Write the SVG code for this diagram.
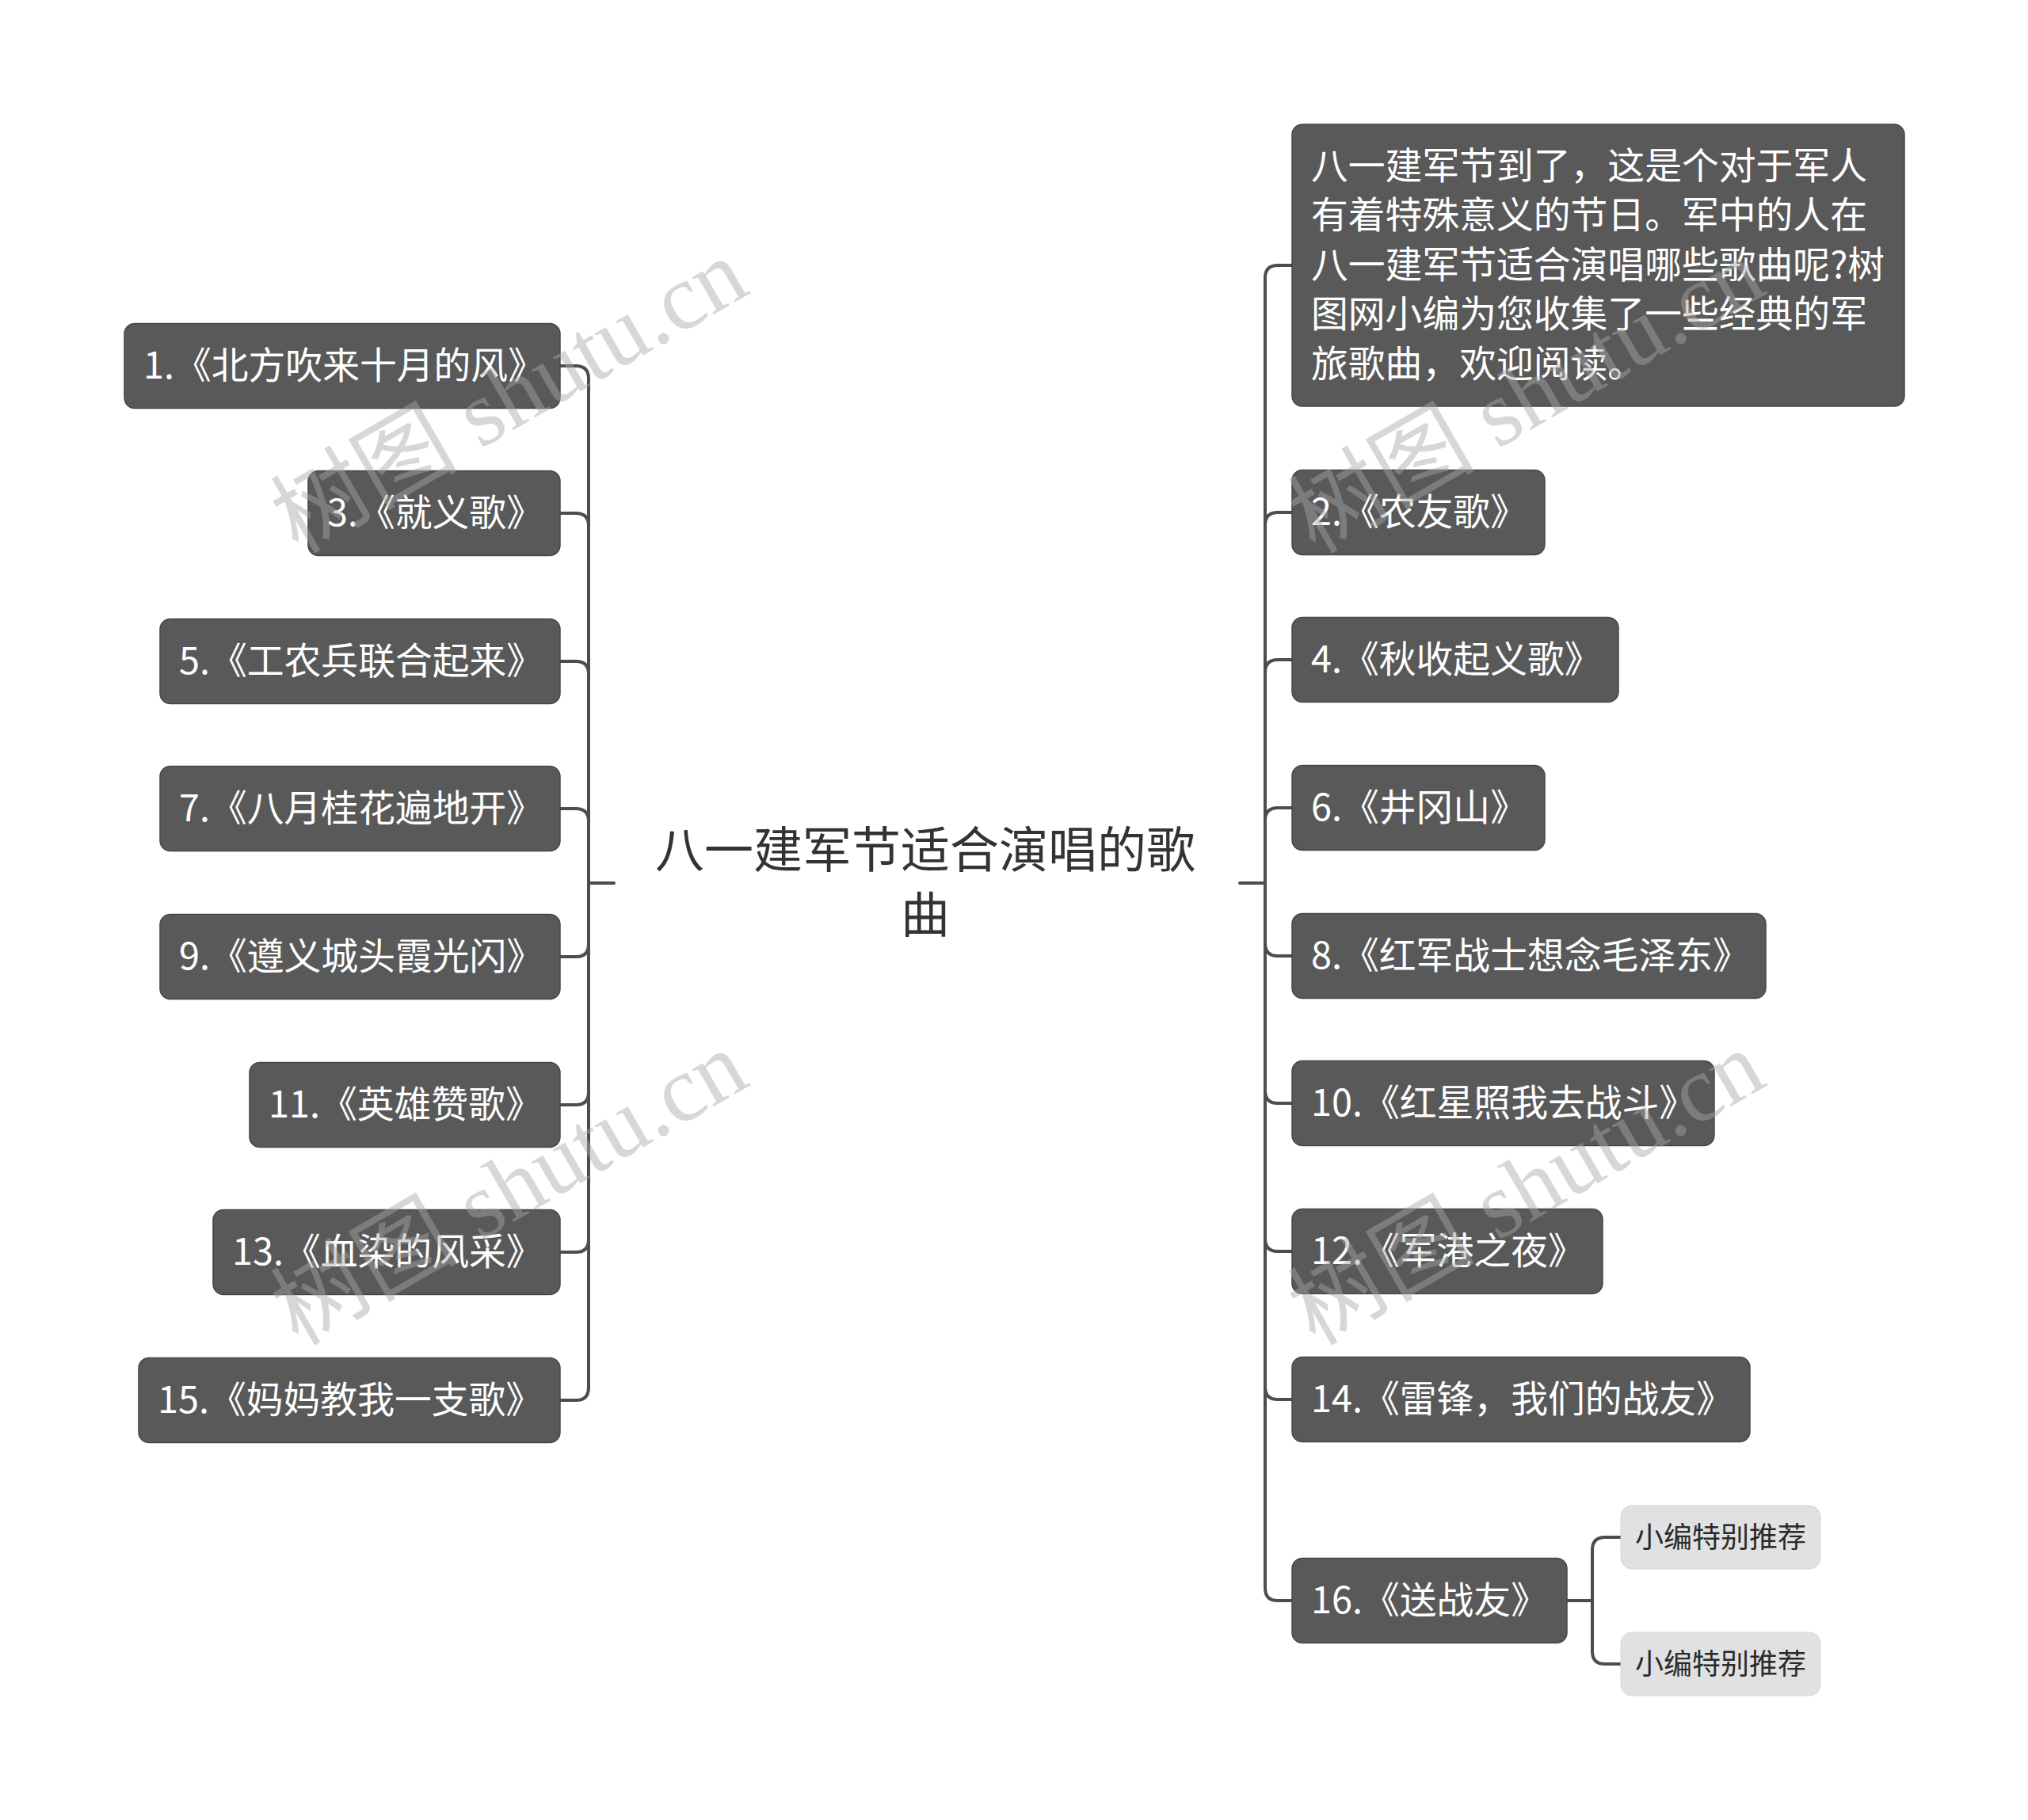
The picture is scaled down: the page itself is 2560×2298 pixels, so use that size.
<svg xmlns="http://www.w3.org/2000/svg" width="2560" height="2298" viewBox="0 0 2560 2298">
<style>
.n rect{fill:#595959;stroke:#474747;stroke-width:1.5}
.n text{fill:#ffffff;font-family:"Noto Sans CJK SC","Microsoft YaHei",sans-serif;font-size:46.8px}
.s rect{fill:#e1e1e1;stroke:#d6d6d6;stroke-width:1}
.s text{fill:#2a2a2a;font-family:"Noto Sans CJK SC",sans-serif;font-size:36px;text-anchor:middle}
.c text{fill:#333333;font-family:"Noto Sans CJK SC",sans-serif;font-size:62px;text-anchor:middle}
#connectors path{fill:none;stroke:#4d4d4d;stroke-width:4;stroke-linecap:round;stroke-linejoin:round}
.wm{fill:#a8a8a8;opacity:0.45;font-family:"Liberation Serif","Noto Sans CJK SC",serif;font-size:118px}
</style>
<rect width="2560" height="2298" fill="#ffffff"/>
<g id="connectors">
<path d="M775 1115 H743"/>
<path d="M743 1115 V478 Q743 462 727 462 H707"/>
<path d="M743 1115 V664 Q743 648 727 648 H707"/>
<path d="M743 1115 V851 Q743 835 727 835 H707"/>
<path d="M743 1115 V1037 Q743 1021 727 1021 H707"/>
<path d="M743 1115 V1192 Q743 1208 727 1208 H707"/>
<path d="M743 1115 V1379 Q743 1395 727 1395 H707"/>
<path d="M743 1115 V1565 Q743 1581 727 1581 H707"/>
<path d="M743 1115 V1752 Q743 1768 727 1768 H707"/>
<path d="M1565 1115 H1597"/>
<path d="M1597 1115 V351 Q1597 335 1613 335 H1631"/>
<path d="M1597 1115 V663 Q1597 647 1613 647 H1631"/>
<path d="M1597 1115 V849 Q1597 833 1613 833 H1631"/>
<path d="M1597 1115 V1036 Q1597 1020 1613 1020 H1631"/>
<path d="M1597 1115 V1191 Q1597 1207 1613 1207 H1631"/>
<path d="M1597 1115 V1377 Q1597 1393 1613 1393 H1631"/>
<path d="M1597 1115 V1564 Q1597 1580 1613 1580 H1631"/>
<path d="M1597 1115 V1751 Q1597 1767 1613 1767 H1631"/>
<path d="M1597 1115 V2005 Q1597 2021 1613 2021 H1631"/>
<path d="M1978 2021 H2010"/>
<path d="M2010 2021 V1957 Q2010 1941 2026 1941 H2046"/>
<path d="M2010 2021 V2085 Q2010 2101 2026 2101 H2046"/>
</g>
<g id="center" class="c">
<text x="1168" y="1096">八一建军节适合演唱的歌</text>
<text x="1168" y="1178">曲</text>
</g>
<g id="n1" class="n"><rect x="157" y="408.5" width="550" height="107" rx="13"/><text x="181" y="478">1.《北方吹来十月的风》</text></g>
<g id="n3" class="n"><rect x="389" y="594.5" width="318" height="107" rx="13"/><text x="413" y="664">3.《就义歌》</text></g>
<g id="n5" class="n"><rect x="202" y="781.5" width="505" height="107" rx="13"/><text x="226" y="851">5.《工农兵联合起来》</text></g>
<g id="n7" class="n"><rect x="202" y="967.5" width="505" height="107" rx="13"/><text x="226" y="1037">7.《八月桂花遍地开》</text></g>
<g id="n9" class="n"><rect x="202" y="1154.5" width="505" height="107" rx="13"/><text x="226" y="1224">9.《遵义城头霞光闪》</text></g>
<g id="n11" class="n"><rect x="315" y="1341.5" width="392" height="107" rx="13"/><text x="339" y="1411">11.《英雄赞歌》</text></g>
<g id="n13" class="n"><rect x="269" y="1527.5" width="438" height="107" rx="13"/><text x="293" y="1597">13.《血染的风采》</text></g>
<g id="n15" class="n"><rect x="175" y="1714.5" width="532" height="107" rx="13"/><text x="199" y="1784">15.《妈妈教我一支歌》</text></g>
<g id="intro" class="n"><rect x="1631" y="157" width="773" height="356" rx="13"/>
<text x="1655" y="226">八一建军节到了，这是个对于军人</text>
<text x="1655" y="288">有着特殊意义的节日。军中的人在</text>
<text x="1655" y="351">八一建军节适合演唱哪些歌曲呢?树</text>
<text x="1655" y="413">图网小编为您收集了一些经典的军</text>
<text x="1655" y="476">旅歌曲，欢迎阅读。</text>
</g>
<g id="n2" class="n"><rect x="1631" y="593.5" width="319" height="107" rx="13"/><text x="1655" y="663">2.《农友歌》</text></g>
<g id="n4" class="n"><rect x="1631" y="779.5" width="412" height="107" rx="13"/><text x="1655" y="849">4.《秋收起义歌》</text></g>
<g id="n6" class="n"><rect x="1631" y="966.5" width="319" height="107" rx="13"/><text x="1655" y="1036">6.《井冈山》</text></g>
<g id="n8" class="n"><rect x="1631" y="1153.5" width="598" height="107" rx="13"/><text x="1655" y="1223">8.《红军战士想念毛泽东》</text></g>
<g id="n10" class="n"><rect x="1631" y="1339.5" width="533" height="107" rx="13"/><text x="1655" y="1409">10.《红星照我去战斗》</text></g>
<g id="n12" class="n"><rect x="1631" y="1526.5" width="392" height="107" rx="13"/><text x="1655" y="1596">12.《军港之夜》</text></g>
<g id="n14" class="n"><rect x="1631" y="1713.5" width="578" height="107" rx="13"/><text x="1655" y="1783">14.《雷锋，我们的战友》</text></g>
<g id="n16" class="n"><rect x="1631" y="1967.5" width="347" height="107" rx="13"/><text x="1655" y="2037">16.《送战友》</text></g>
<g id="r1" class="s"><rect x="2046" y="1901" width="252" height="80" rx="14"/><text x="2172" y="1954">小编特别推荐</text></g>
<g id="r2" class="s"><rect x="2046" y="2061" width="252" height="80" rx="14"/><text x="2172" y="2114">小编特别推荐</text></g>
<g id="watermarks">
<text class="wm" transform="translate(376 700) rotate(-30)">树图 shutu.cn</text>
<text class="wm" transform="translate(376 1700) rotate(-30)">树图 shutu.cn</text>
<text class="wm" transform="translate(1660 700) rotate(-30)">树图 shutu.cn</text>
<text class="wm" transform="translate(1660 1700) rotate(-30)">树图 shutu.cn</text>
</g>
</svg>
